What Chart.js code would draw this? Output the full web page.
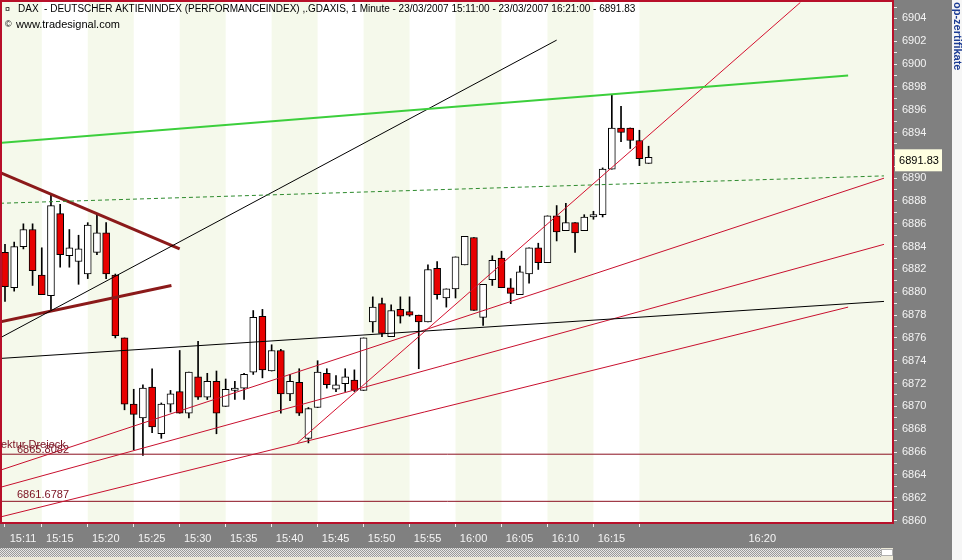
<!DOCTYPE html>
<html>
<head>
<meta charset="utf-8">
<script src="https://cdn.jsdelivr.net/npm/chart.js@4.4.1/dist/chart.umd.min.js"></script>
<style>
html, body { margin: 0; padding: 0; background: #ece9d8; }
#wrap { position: relative; width: 962px; height: 560px; }
</style>
</head>
<body>
<div id="wrap"><canvas id="myChart" width="962" height="560"></canvas></div>
<script>
// one candle per minute, 23/03/2007
const times = ['15:11','15:12','15:13','15:14','15:15','15:16','15:17','15:18','15:19','15:20',
  '15:21','15:22','15:23','15:24','15:25','15:26','15:27','15:28','15:29','15:30',
  '15:31','15:32','15:33','15:34','15:35','15:36','15:37','15:38','15:39','15:40',
  '15:41','15:42','15:43','15:44','15:45','15:46','15:47','15:48','15:49','15:50',
  '15:51','15:52','15:53','15:54','15:55','15:56','15:57','15:58','15:59','16:00',
  '16:01','16:02','16:03','16:04','16:05','16:06','16:07','16:08','16:09','16:10',
  '16:11','16:12','16:13','16:14','16:15','16:16','16:17','16:18','16:19','16:20','16:21'];

const open = [6883.5, 6880.4, 6884.0, 6885.5, 6881.5, 6879.7, 6886.9, 6883.2, 6882.7, 6881.6,
  6883.5, 6885.2, 6881.5, 6876.0, 6870.2, 6869.0, 6871.7, 6867.6, 6870.2, 6871.3,
  6869.4, 6872.6, 6870.8, 6872.2, 6870.0, 6871.4, 6871.6, 6873.0, 6877.9, 6873.1,
  6874.9, 6871.1, 6872.1, 6867.2, 6869.9, 6872.9, 6871.5, 6872.0, 6872.3, 6871.4,
  6877.4, 6879.0, 6876.1, 6878.5, 6878.3, 6878.0, 6877.4, 6882.1, 6879.5, 6880.3,
  6882.4, 6884.8, 6877.8, 6881.1, 6883.0, 6880.4, 6879.8, 6881.6, 6883.9, 6882.6,
  6886.7, 6885.4, 6886.1, 6885.4, 6886.6, 6886.8, 6890.8, 6894.4, 6894.4, 6893.3, 6891.3];
const high = [6884.2, 6884.4, 6886.0, 6886.0, 6883.9, 6888.5, 6887.7, 6885.5, 6885.0, 6886.1,
  6886.8, 6886.1, 6881.6, 6876.0, 6871.5, 6871.9, 6873.3, 6870.3, 6871.4, 6874.9,
  6873.0, 6875.7, 6872.9, 6873.1, 6872.4, 6872.2, 6872.9, 6878.4, 6878.5, 6875.4,
  6875.0, 6872.8, 6873.3, 6869.9, 6874.0, 6873.3, 6872.7, 6873.3, 6873.2, 6876.0,
  6879.6, 6879.5, 6878.9, 6879.6, 6879.6, 6878.0, 6882.4, 6882.7, 6880.3, 6883.1,
  6884.9, 6884.8, 6880.7, 6883.2, 6883.6, 6881.2, 6882.3, 6883.9, 6884.3, 6886.7,
  6887.6, 6887.8, 6886.1, 6886.8, 6887.1, 6890.9, 6897.3, 6896.3, 6894.4, 6894.2, 6892.8];
const low = [6879.2, 6880.1, 6883.8, 6880.6, 6879.8, 6878.4, 6882.2, 6882.2, 6880.7, 6881.2,
  6883.3, 6881.2, 6876.0, 6869.7, 6866.2, 6865.7, 6867.7, 6867.2, 6869.5, 6869.4,
  6869.0, 6870.6, 6870.6, 6867.6, 6870.0, 6870.6, 6870.6, 6872.8, 6872.5, 6873.1,
  6869.4, 6870.5, 6869.2, 6866.8, 6869.9, 6871.6, 6871.3, 6871.3, 6871.3, 6871.4,
  6876.5, 6876.1, 6876.1, 6877.3, 6877.9, 6873.3, 6877.4, 6879.4, 6878.7, 6879.5,
  6882.4, 6878.4, 6877.1, 6880.6, 6880.4, 6879.0, 6879.8, 6880.8, 6882.0, 6882.6,
  6884.5, 6885.4, 6883.5, 6885.4, 6886.4, 6886.6, 6890.8, 6893.2, 6892.6, 6891.1, 6891.3];
const close = [6880.5, 6884.0, 6885.5, 6881.9, 6879.8, 6887.6, 6883.3, 6883.9, 6883.8, 6885.9,
  6885.2, 6881.6, 6876.2, 6870.2, 6869.3, 6871.6, 6868.2, 6870.2, 6871.1, 6869.4,
  6873.0, 6870.8, 6872.2, 6869.4, 6871.5, 6871.6, 6872.8, 6877.8, 6873.2, 6874.9,
  6871.1, 6872.2, 6869.4, 6869.8, 6873.0, 6871.9, 6871.9, 6872.6, 6871.4, 6876.0,
  6878.7, 6876.4, 6878.4, 6877.9, 6878.0, 6877.4, 6882.0, 6879.8, 6880.3, 6883.1,
  6884.9, 6878.4, 6880.7, 6882.8, 6880.4, 6879.9, 6881.8, 6883.9, 6882.6, 6886.7,
  6885.3, 6886.1, 6885.2, 6886.6, 6886.8, 6890.8, 6894.4, 6894.0, 6893.3, 6891.7, 6891.83];

// x axis ticks (candle index) and labels
const tickIdx = [0, 4, 9, 14, 19, 24, 29, 34, 39, 44, 49, 54, 59, 64, 69, 80.4];
const tickLabels = ['15:11','15:15','15:20','15:25','15:30','15:35','15:40','15:45','15:50',
  '15:55','16:00','16:05','16:10','16:15','','16:20'];
const priceLabels = [6860, 6862, 6864, 6866, 6868, 6870, 6872, 6874, 6876, 6878, 6880, 6882,
  6884, 6886, 6888, 6890, 6892, 6894, 6896, 6898, 6900, 6902, 6904];

// drawing tools: [candle index, price] end points
const greenLine = [[-0.54, 6893.1], [91.7, 6899.0]];
const greenDashed = [[-0.54, 6887.8], [95.6, 6890.2]];
const blackSteep = [[-0.54, 6876.0], [60.0, 6902.1]];
const blackFlat = [[-0.54, 6874.2], [95.6, 6879.2]];
const triangleTop = [[-0.54, 6890.5], [19.0, 6883.8]];
const triangleBottom = [[-0.54, 6877.4], [18.1, 6880.6]];
const redSteep = [[31.8, 6866.8], [86.5, 6905.4]];
const redChannelA = [[-0.54, 6864.4], [95.6, 6890.0]];
const redChannelB = [[-0.54, 6862.9], [95.6, 6884.2]];
const redChannelC = [[-0.54, 6860.3], [91.7, 6878.7]];
const levels = [6865.8082, 6861.6787];

const xMin = -0.326, xMax = 96.58;
const yMin = 6859.78, yMax = 6905.44;

Chart.defaults.font.family = '"Liberation Sans", Arial, sans-serif';

const wicks = times.map((t, i) => ({ x: i, y: [low[i], high[i]] }));
const bodies = times.map((t, i) => ({ x: i, y: [open[i], close[i]] }));
const bodyColors = times.map((t, i) => close[i] >= open[i] ? '#ffffff' : '#e80000');

function trend(pts, color, width, dash) {
    return {
        type: 'line',
        data: pts.map(p => ({ x: p[0], y: p[1] })),
        borderColor: color,
        borderWidth: width,
        borderDash: dash || [],
        pointRadius: 0,
        fill: false,
        order: 0
    };
}

const datasets = [
    { label: 'wick', data: wicks, backgroundColor: '#000', borderWidth: 0, barThickness: 1, grouped: false, order: 3 },
    { label: 'body', data: bodies, backgroundColor: bodyColors, borderColor: '#000', borderWidth: 1,
      borderSkipped: false, barThickness: 7, grouped: false, order: 2 },
    trend(greenLine, '#3ccf3c', 2),
    trend(greenDashed, '#2e8b2e', 1, [4, 3]),
    trend(blackSteep, '#000', 1),
    trend(blackFlat, '#000', 1),
    trend(triangleTop, '#8b1a1a', 3),
    trend(triangleBottom, '#8b1a1a', 3),
    trend(redSteep, '#d4102e', 1),
    trend(redChannelA, '#c8102e', 1),
    trend(redChannelB, '#c8102e', 1),
    trend(redChannelC, '#c8102e', 1)
];
levels.forEach(v => datasets.push(trend([[xMin, v], [xMax, v]], '#8b1020', 1)));

// background, axis panels, borders and texts
const decor = {
    id: 'decor',
    beforeDraw(chart) {
        const c = chart.ctx, a = chart.chartArea, xs = chart.scales.x;
        c.save();
        c.fillStyle = '#ece9d8';
        c.fillRect(0, 0, 962, 560);
        c.fillStyle = '#f6f6f6';
        c.fillRect(952, 0, 10, 560);
        c.fillStyle = '#808080';
        c.fillRect(a.right, 0, 952 - a.right, 560);
        c.fillRect(0, a.bottom, 952, 25);
        // hatched scroll strip
        const pc = document.createElement('canvas');
        pc.width = 2; pc.height = 2;
        const p = pc.getContext('2d');
        p.fillStyle = '#e6e6e6'; p.fillRect(0, 0, 2, 2);
        p.fillStyle = '#9a9a9a'; p.fillRect(0, 0, 1, 1); p.fillRect(1, 1, 1, 1);
        c.fillStyle = c.createPattern(pc, 'repeat');
        c.fillRect(0, 548, 881, 9);
        c.fillStyle = '#ffffff';
        c.fillRect(881, 549, 12, 7);
        c.strokeStyle = '#606060';
        c.setLineDash([1, 1]);
        c.strokeRect(881.5, 549.5, 11, 6);
        c.setLineDash([]);
        // time bands
        c.fillStyle = '#ffffff';
        c.fillRect(a.left, a.top, a.right - a.left, a.bottom - a.top);
        const bounds = [xMin].concat(tickIdx.slice(1, 15), [xMax]);
        c.fillStyle = '#f5f9eb';
        for (let j = 0; j < bounds.length - 1; j += 2) {
            const x0 = xs.getPixelForValue(bounds[j]);
            const x1 = xs.getPixelForValue(bounds[j + 1]);
            c.fillRect(x0, a.top, x1 - x0, a.bottom - a.top);
        }
        c.restore();
    },
    afterDraw(chart) {
        const c = chart.ctx, a = chart.chartArea, ys = chart.scales.y;
        c.save();
        c.strokeStyle = '#b8102a';
        c.lineWidth = 2;
        c.strokeRect(a.left - 1, a.top - 1, a.right - a.left + 1, a.bottom - a.top + 1);

        // title lines
        c.fillStyle = '#000';
        c.textBaseline = 'alphabetic';
        c.textAlign = 'left';
        const title = 'DAX  - DEUTSCHER AKTIENINDEX (PERFORMANCEINDEX) ,.GDAXIS, 1 Minute - 23/03/2007 15:11:00 - 23/03/2007 16:21:00 - 6891.83';
        let size = 11;
        c.font = size + 'px "Liberation Sans"';
        while (c.measureText(title).width > 618 && size > 8) {
            size -= 0.25;
            c.font = size + 'px "Liberation Sans"';
        }
        c.fillText(title, 18, 12);
        c.font = '9px "Liberation Sans"';
        c.fillText('¤', 5, 12);
        c.fillText('©', 5, 27);
        c.font = '11px "Liberation Sans"';
        c.fillText('www.tradesignal.com', 16, 28);

        // level labels
        c.fillStyle = '#7a1020';
        c.font = '11px "Liberation Sans"';
        c.fillText('ektur Dreieck', 1, 448);
        c.fillText(levels[0].toFixed(4), 17, ys.getPixelForValue(levels[0]) - 1);
        c.fillText(levels[1].toFixed(4), 17, ys.getPixelForValue(levels[1]) - 3);

        // last price tag
        const last = close[close.length - 1];
        const py = ys.getPixelForValue(last) + 3;
        c.fillStyle = '#ffffe1';
        c.fillRect(895, py - 11, 47, 22);
        c.fillStyle = '#000';
        c.textAlign = 'center';
        c.textBaseline = 'middle';
        c.font = '11px "Liberation Sans"';
        c.fillText(last.toFixed(2), 919, py + 1);

        // vendor text on the right edge
        c.translate(954, 2);
        c.rotate(Math.PI / 2);
        c.textAlign = 'left';
        c.textBaseline = 'alphabetic';
        c.fillStyle = '#1c3c94';
        c.font = 'bold 11px "Liberation Sans"';
        c.fillText('op-zertifikate', 0, 0);
        c.restore();
    }
};

const myChart = new Chart(document.getElementById('myChart').getContext('2d'), {
    type: 'bar',
    data: { datasets: datasets },
    options: {
        responsive: false,
        animation: false,
        layout: { padding: { left: 2, top: 2, right: 0, bottom: 0 } },
        plugins: { legend: { display: false }, tooltip: { enabled: false } },
        scales: {
            x: {
                type: 'linear', min: xMin, max: xMax, offset: false,
                afterBuildTicks: s => { s.ticks = tickIdx.map(v => ({ value: v })); },
                afterFit: s => { s.height = 37; s.paddingLeft = 0; s.paddingRight = 0; },
                grid: { drawOnChartArea: false, offset: false, tickLength: 4,
                        tickColor: ctx => (ctx.tick && ctx.tick.value > 70) ? 'rgba(0,0,0,0)' : '#f0f0f0' },
                border: { display: false },
                ticks: { color: '#f4f4f4', font: { size: 11 }, padding: 5, labelOffset: 18,
                         maxRotation: 0, autoSkip: false, callback: (v, i) => tickLabels[i] }
            },
            y: {
                position: 'right', min: yMin, max: yMax,
                afterBuildTicks: s => {
                    const t = [];
                    for (let v = 6860; v <= 6905; v++) t.push({ value: v });
                    s.ticks = t;
                },
                afterFit: s => { s.width = 69; s.paddingTop = 0; s.paddingBottom = 0; },
                grid: { drawOnChartArea: false, tickLength: 4, tickColor: '#f0f0f0' },
                border: { display: false },
                ticks: { color: '#f4f4f4', font: { size: 11 }, padding: 5, autoSkip: false,
                         callback: v => priceLabels.includes(v) ? String(v) : '' }
            }
        }
    },
    plugins: [decor]
});
</script>
</body>
</html>
